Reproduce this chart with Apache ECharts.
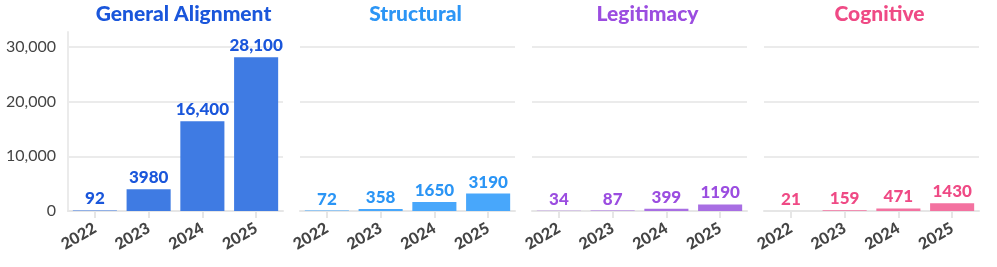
<!DOCTYPE html>
<html><head><meta charset="utf-8">
<script src="https://cdn.jsdelivr.net/npm/echarts@6/dist/echarts.min.js"></script>
<style>html,body{margin:0;padding:0;background:#fff}#c{width:997px;height:267px}</style>
</head><body><div id="c"></div>
<script>
var years = ['2022','2023','2024','2025'];
var panelTitles = ['General Alignment','Structural','Legitimacy','Cognitive'];
var generalAlignment = [92, 3980, 16400, 28100];
var structural = [72, 358, 1650, 3190];
var legitimacy = [34, 87, 399, 1190];
var cognitive = [21, 159, 471, 1430];
var yTicks = [0, 10000, 20000, 30000];

var seriesData = [generalAlignment, structural, legitimacy, cognitive];
var textColors = ['#1a56db', '#2b95f5', '#9b4de0', '#ef4a85'];
var barColors = ['#3f7be3', '#48a7fb', '#a86ee3', '#f372a0'];
var FONT = 'Lato';
var lefts = [68, 300, 532, 764];
var W = 215, TOP = 32, H = 179;

function fmt(v){ return v >= 10000 ? v.toLocaleString('en-US') : String(v); }

var grids = [], xAxes = [], yAxes = [], series = [], titles = [];
for (var i = 0; i < 4; i++) {
  grids.push({left: lefts[i], top: TOP, width: W, height: H, containLabel: false});
  xAxes.push({
    type: 'category', gridIndex: i, data: years,
    axisLine: {show: true, lineStyle: {color: '#e6e6e6', width: 2}},
    axisTick: {show: true, alignWithLabel: true, length: 7, lineStyle: {color: '#e6e6e6', width: 2}},
    axisLabel: {rotate: 30, margin: 16, color: '#444', fontFamily: FONT, fontWeight: 900, fontSize: 16}
  });
  yAxes.push({
    type: 'value', gridIndex: i, min: 0, max: 32700, interval: 10000,
    axisLine: {show: i === 0, lineStyle: {color: '#ebebeb', width: 2}},
    axisTick: {show: false},
    axisLabel: {show: i === 0, showMaxLabel: false, color: '#444', fontFamily: FONT, fontSize: 16, margin: 12,
      formatter: function(v){ return yTicks.indexOf(v) >= 0 ? v.toLocaleString('en-US') : ''; }},
    splitLine: {show: true, showMaxLine: false, lineStyle: {color: '#ebebeb', width: 2}}
  });
  series.push({
    type: 'bar', xAxisIndex: i, yAxisIndex: i, data: seriesData[i], barWidth: '82%',
    itemStyle: {color: barColors[i]},
    label: {show: true, position: 'top', distance: 3, color: textColors[i], fontFamily: FONT, fontWeight: 900, fontSize: 17,
      formatter: function(p){ return fmt(p.value); }}
  });
  titles.push({
    text: panelTitles[i], left: lefts[i] + W/2 + 3, top: -1, textAlign: 'center',
    textStyle: {color: textColors[i], fontFamily: FONT, fontWeight: 900, fontSize: 21}
  });
}

var chart = echarts.init(document.getElementById('c'), null, {renderer: 'canvas'});
chart.setOption({
  animation: false,
  title: titles, grid: grids, xAxis: xAxes, yAxis: yAxes, series: series
});
</script></body></html>
